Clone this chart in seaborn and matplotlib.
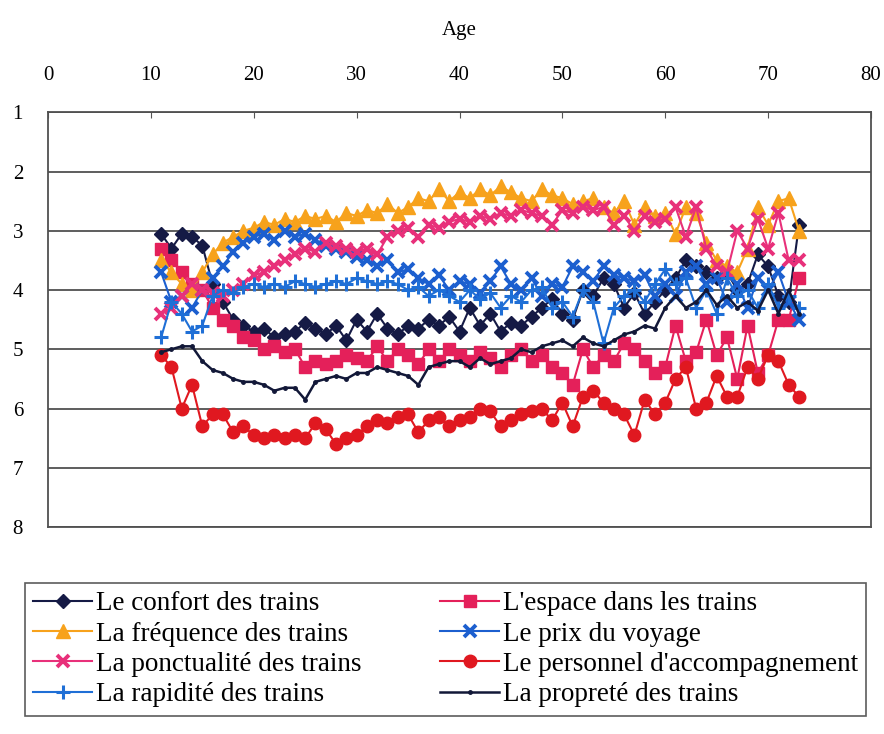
import numpy as np
import pandas as pd
import matplotlib
matplotlib.use("Agg")
import matplotlib.pyplot as plt
import seaborn as sns

ages = list(range(11, 74))

confort = [3.05, 3.3, 3.05, 3.1, 3.25, 3.9, 4.2, 4.5, 4.6, 4.7, 4.65, 4.8, 4.75, 4.7, 4.55,
           4.65, 4.75, 4.6, 4.85, 4.5, 4.7, 4.4, 4.65, 4.75, 4.6, 4.65, 4.5, 4.6, 4.45, 4.7,
           4.3, 4.6, 4.4, 4.7, 4.55, 4.6, 4.45, 4.3, 4.15, 4.4, 4.5, 4.0, 4.1, 3.8, 3.9,
           4.3, 4.05, 4.4, 4.2, 4.0, 3.8, 3.5, 3.6, 3.7, 3.8, 3.7, 4.0, 3.9, 3.4, 3.6,
           4.1, 4.2, 2.9]
frequence = [3.5, 3.7, 3.9, 4.0, 3.7, 3.4, 3.2, 3.1, 3.0, 2.95, 2.85, 2.9, 2.8, 2.85, 2.75,
             2.8, 2.75, 2.85, 2.7, 2.75, 2.65, 2.7, 2.55, 2.7, 2.6, 2.45, 2.5, 2.3, 2.5, 2.35,
             2.45, 2.3, 2.4, 2.25, 2.35, 2.45, 2.5, 2.3, 2.4, 2.45, 2.55, 2.5, 2.45, 2.6, 2.7,
             2.5, 2.9, 2.6, 2.75, 2.7, 3.05, 2.6, 2.7, 3.2, 3.5, 3.6, 3.7, 3.3, 2.6, 2.9,
             2.5, 2.45, 3.0]
ponctualite = [4.4, 4.3, 4.1, 3.9, 4.0, 4.05, 4.1, 4.0, 3.9, 3.75, 3.7, 3.6, 3.5, 3.4, 3.3,
               3.35, 3.2, 3.25, 3.3, 3.35, 3.3, 3.4, 3.1, 3.0, 2.95, 3.1, 2.9, 2.95, 2.85, 2.8,
               2.85, 2.75, 2.8, 2.7, 2.75, 2.65, 2.7, 2.75, 2.9, 2.65, 2.7, 2.6, 2.65, 2.6, 2.9,
               2.75, 3.0, 2.75, 2.85, 2.8, 2.6, 3.1, 2.6, 3.3, 3.6, 3.7, 3.0, 3.3, 2.8, 3.3,
               2.7, 3.5, 3.5]
rapidite = [4.8, 4.2, 4.4, 4.7, 4.6, 4.1, 4.0, 4.05, 3.95, 3.9, 3.95, 3.9, 3.95, 3.85, 3.9,
            3.95, 3.9, 3.85, 3.9, 3.8, 3.85, 3.9, 3.85, 3.9, 4.0, 3.95, 4.1, 4.0, 4.1, 4.2,
            4.0, 4.15, 4.05, 4.3, 4.1, 4.2, 4.0, 3.95, 4.3, 4.2, 4.45, 4.0, 4.2, 4.9, 4.3,
            4.1, 4.0, 4.2, 3.9, 3.65, 3.9, 3.8, 4.3, 4.0, 4.4, 3.8, 4.1, 4.0, 4.3, 3.9,
            4.3, 4.1, 4.3]
espace = [3.3, 3.5, 3.7, 3.9, 4.0, 4.3, 4.5, 4.6, 4.8, 4.85, 5.0, 4.95, 5.05, 5.0, 5.3,
          5.2, 5.25, 5.2, 5.1, 5.15, 5.2, 4.95, 5.2, 5.0, 5.1, 5.25, 5.0, 5.2, 5.0, 5.1,
          5.2, 5.05, 5.15, 5.3, 5.1, 5.0, 5.2, 5.1, 5.3, 5.4, 5.6, 5.0, 5.3, 5.1, 5.2,
          4.9, 5.0, 5.2, 5.4, 5.3, 4.6, 5.2, 5.05, 4.5, 5.1, 4.8, 5.5, 4.6, 5.4, 5.1,
          4.5, 4.5, 3.8]
prix = [3.7, 4.2, 4.1, 4.3, 4.0, 3.8, 3.6, 3.35, 3.2, 3.1, 3.05, 3.15, 3.0, 3.1, 3.05,
        3.15, 3.25, 3.3, 3.35, 3.45, 3.5, 3.6, 3.5, 3.7, 3.65, 3.8, 3.9, 3.75, 4.0, 3.85,
        3.9, 4.05, 3.85, 3.6, 3.9, 4.0, 3.8, 4.1, 3.9, 3.95, 3.6, 3.7, 3.85, 3.6, 3.75,
        3.8, 3.85, 3.75, 4.1, 3.9, 4.1, 3.7, 3.6, 3.9, 3.8, 4.2, 3.9, 4.3, 3.8, 4.0,
        3.7, 4.2, 4.5]
personnel = [5.1, 5.3, 6.0, 5.6, 6.3, 6.1, 6.1, 6.4, 6.3, 6.45, 6.5, 6.45, 6.5, 6.45, 6.5,
             6.25, 6.35, 6.6, 6.5, 6.45, 6.3, 6.2, 6.25, 6.15, 6.1, 6.4, 6.2, 6.15, 6.3, 6.2,
             6.15, 6.0, 6.05, 6.3, 6.2, 6.1, 6.05, 6.0, 6.2, 5.9, 6.3, 5.8, 5.7, 5.9, 6.0,
             6.1, 6.45, 5.85, 6.1, 5.9, 5.5, 5.3, 6.0, 5.9, 5.45, 5.8, 5.8, 5.3, 5.5, 5.1,
             5.2, 5.6, 5.8]
proprete = [5.05, 5.0, 4.95, 4.95, 5.2, 5.35, 5.4, 5.5, 5.55, 5.55, 5.6, 5.7, 5.65, 5.65, 5.85,
            5.55, 5.5, 5.45, 5.5, 5.4, 5.4, 5.3, 5.35, 5.4, 5.45, 5.6, 5.3, 5.25, 5.2, 5.2,
            5.3, 5.15, 5.25, 5.2, 5.15, 5.0, 5.05, 4.95, 4.9, 4.85, 4.95, 4.8, 4.9, 4.95, 4.85,
            4.75, 4.7, 4.6, 4.65, 4.3, 4.1, 4.3, 4.2, 4.0, 4.25, 4.1, 4.3, 4.2, 4.35, 4.0,
            4.4, 4.0, 4.4]

labels = ["Le confort des trains", "La fréquence des trains", "La ponctualité des trains",
          "La rapidité des trains", "L'espace dans les trains", "Le prix du voyage",
          "Le personnel d'accompagnement", "La propreté des trains"]
values = [confort, frequence, ponctualite, rapidite, espace, prix, personnel, proprete]

# drawing order as in the source spreadsheet
draw_order = [0, 4, 1, 5, 2, 6, 3, 7]
styles = {
    0: dict(color="#151a45", marker="D", ms=7.5, mew=1, lw=1.5),
    1: dict(color="#f7a21c", marker="^", ms=9.5, mew=1, lw=1.5),
    2: dict(color="#e8307a", marker="x", ms=8, mew=2.8, lw=1.5),
    3: dict(color="#1f6fd6", marker="+", ms=10, mew=2.2, lw=1.5),
    4: dict(color="#e4205a", marker="s", ms=8, mew=1, lw=1.5),
    5: dict(color="#1c5fcf", marker="x", ms=8, mew=2.8, lw=1.5),
    6: dict(color="#e01820", marker="o", ms=9, mew=1, lw=1.5),
    7: dict(color="#121838", marker="o", ms=2.5, mew=1, lw=1.8),
}

plt.rcParams["font.family"] = ["Liberation Serif", "DejaVu Serif"]

fig = plt.figure(figsize=(8.84, 7.34), dpi=100)
ax = fig.add_axes([0.0543, 0.282, 0.931, 0.565])

handles = {}
for i in draw_order:
    df = pd.DataFrame({"Age": ages, "Note": values[i]})
    st = styles[i]
    sns.lineplot(data=df, x="Age", y="Note", ax=ax, color=st["color"], marker=st["marker"],
                 markersize=st["ms"], markeredgewidth=st["mew"], markeredgecolor=st["color"],
                 linewidth=st["lw"], label=labels[i], legend=False)
    handles[i] = ax.lines[-1]

ax.set_xlim(0, 80)
ax.set_ylim(8, 1)
ax.set_xticks(range(0, 81, 10))
ax.set_yticks(range(1, 9))
ax.xaxis.tick_top()
ax.xaxis.set_label_position("top")
ax.set_xlabel("Age", fontsize=15, labelpad=22)
ax.set_ylabel("")
ax.tick_params(axis="x", direction="in", length=4, color="#555555", labelsize=15, pad=20)
ax.tick_params(axis="y", length=0, labelsize=15, pad=18)
ax.grid(axis="y", color="#505050", linewidth=1.3)
ax.grid(axis="x", visible=False)
for sp in ax.spines.values():
    sp.set_color("#505050")
    sp.set_linewidth(1.3)

order = [0, 1, 2, 3, 4, 5, 6, 7]
leg = fig.legend([handles[i] for i in order], [labels[i] for i in order], ncol=2,
                 loc="upper left", bbox_to_anchor=(0.028, 0.2057),
                 fontsize=19.5, frameon=True, fancybox=False,
                 edgecolor="#333333", handlelength=2.2, handletextpad=0.12,
                 labelspacing=0.2, borderpad=0.3, borderaxespad=0, columnspacing=2.9)
leg.get_frame().set_linewidth(1.2)

fig.savefig("out.png", dpi=100, facecolor="white")
